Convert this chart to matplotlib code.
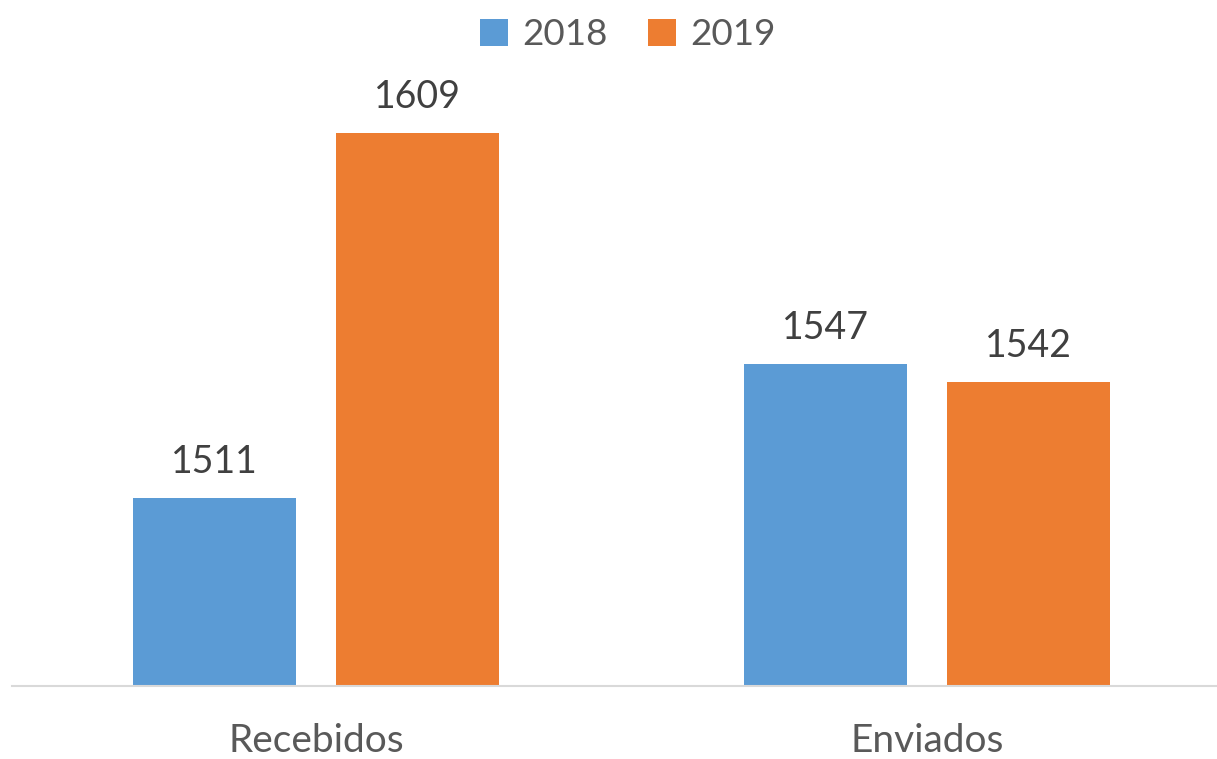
import matplotlib.pyplot as plt
import numpy as np

categories = ['Recebidos', 'Enviados']
years = ['2018', '2019']
values_2018 = [1511, 1547]
values_2019 = [1609, 1542]

BLUE = '#5B9BD5'
ORANGE = '#ED7D31'

plt.rcParams['font.family'] = ['Lato', 'DejaVu Sans']

fig = plt.figure(figsize=(12.17, 7.59), dpi=100)
W, H = 1217, 759
# axes box in pixel terms: left 12, right 1217, bottom line at y=686, top at y=92
ax = fig.add_axes([12 / W, (H - 686) / H, (1217 - 12) / W, (686 - 92) / H])

x = np.arange(len(categories))
width = 0.267
off = 0.1665
b1 = ax.bar(x - off, values_2018, width, color=BLUE, label=years[0])
b2 = ax.bar(x + off, values_2019, width, color=ORANGE, label=years[1])

ax.set_ylim(1460.5, 1620)
ax.set_xlim(-0.4975, 1.4746)

for bars in (b1, b2):
    for r in bars:
        ax.annotate(str(int(r.get_height())),
                    (r.get_x() + r.get_width() / 2, r.get_height()),
                    xytext=(0, 13), textcoords='offset points',
                    ha='center', va='bottom', fontsize=27, color='#404040')

for s in ['top', 'right', 'left']:
    ax.spines[s].set_visible(False)
ax.spines['bottom'].set_color('#D9D9D9')
ax.spines['bottom'].set_linewidth(1.5)
ax.set_yticks([])
ax.set_xticks(x)
ax.set_xticklabels(categories, fontsize=28, color='#595959')
ax.tick_params(axis='x', length=0, pad=27)

fig.legend(loc='upper center', bbox_to_anchor=(628 / W, 1.02), ncol=2,
           frameon=False, fontsize=26.5, labelcolor='#595959',
           handlelength=0.75, handleheight=0.75, handletextpad=0.4,
           columnspacing=1.1)

fig.savefig('out.png', dpi=100)
